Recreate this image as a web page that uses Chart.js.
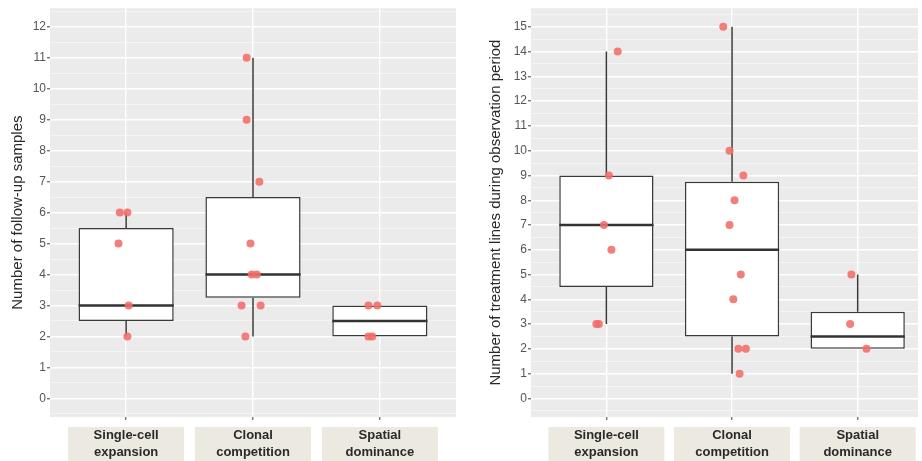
<!DOCTYPE html>
<html><head><meta charset="utf-8">
<script src="https://cdn.jsdelivr.net/npm/chart.js@4.4.1/dist/chart.umd.min.js"></script>
<style>
html,body{margin:0;padding:0;background:#fff;overflow:hidden;}
#wrap{position:relative;width:922px;height:461px;}
canvas{position:absolute;top:0;}
#c1{left:0}
#c2{left:460px}
</style></head><body>
<div id="wrap"><canvas id="c1" width="460" height="461"></canvas><canvas id="c2" width="462" height="461"></canvas></div>
<script>
// ---------- data ----------
const CATEGORIES = [["Single-cell","expansion"],["Clonal","competition"],["Spatial","dominance"]];

const FOLLOWUP_TITLE = "Number of follow-up samples";
const FOLLOWUP_TICKS = [0,1,2,3,4,5,6,7,8,9,10,11,12];
const FOLLOWUP_LOWER  = [2, 2, 2];
const FOLLOWUP_Q1     = [2.5, 3.25, 2];
const FOLLOWUP_MEDIAN = [3, 4, 2.5];
const FOLLOWUP_Q3     = [5.5, 6.5, 3];
const FOLLOWUP_UPPER  = [6, 11, 3];
const FOLLOWUP_PT_GROUP  = [0,0,0,0,0, 1,1,1,1,1,1,1,1,1, 2,2,2,2];
const FOLLOWUP_PT_VALUE  = [6,6,5,3,2, 11,9,7,5,4,4,3,3,2, 3,3,2,2];
const FOLLOWUP_PT_JITTER = [-0.05,0.01,-0.06,0.02,0.01, -0.05,-0.05,0.05,-0.02,-0.01,0.03,-0.09,0.06,-0.06, -0.09,-0.02,-0.09,-0.06];

const TREAT_TITLE = "Number of treatment lines during observation period";
const TREAT_TICKS = [0,1,2,3,4,5,6,7,8,9,10,11,12,13,14,15];
const TREAT_LOWER  = [3, 1, 2];
const TREAT_Q1     = [4.5, 2.5, 2];
const TREAT_MEDIAN = [7, 6, 2.5];
const TREAT_Q3     = [9, 8.75, 3.5];
const TREAT_UPPER  = [14, 15, 5];
const TREAT_PT_GROUP  = [0,0,0,0,0,0, 1,1,1,1,1,1,1,1,1,1, 2,2,2];
const TREAT_PT_VALUE  = [14,9,7,6,3,3, 15,10,9,8,7,5,4,2,2,1, 5,3,2];
const TREAT_PT_JITTER = [0.09,0.02,-0.02,0.04,-0.08,-0.06, -0.07,-0.02,0.09,0.02,-0.02,0.07,0.01,0.05,0.11,0.06, -0.05,-0.06,0.07];

// ---------- style ----------
const BOX_WIDTH = 0.75;
const FONT = 'Arial, "Liberation Sans", sans-serif';
const isInt = v => Math.abs(v - Math.round(v)) < 1e-9;

const bgPlugin = {
  id: 'bg',
  beforeDraw(chart) {
    const {ctx, chartArea: a, scales: {x}} = chart;
    ctx.save();
    ctx.fillStyle = '#ebebeb';
    ctx.fillRect(a.left, a.top, a.right - a.left, a.bottom - a.top);
    ctx.fillStyle = '#ece9e1';
    x.ticks.forEach(t => {
      const px = x.getPixelForValue(t.value);
      ctx.fillRect(px - 58, a.bottom + 10, 116, chart.height);
    });
    ctx.restore();
  }
};

function makeChart(id, o) {
  const n = CATEGORIES.length;
  const boxes = o.q1.map((q, i) => ({x: i + 1, y: [q, o.q3[i]]}));
  const whiskers = [], medians = [];
  for (let i = 0; i < n; i++) {
    const c = i + 1;
    whiskers.push({x: c, y: o.lower[i]}, {x: c, y: o.q1[i]}, {x: c, y: null},
                  {x: c, y: o.q3[i]}, {x: c, y: o.upper[i]}, {x: c, y: null});
    medians.push({x: c - BOX_WIDTH / 2, y: o.median[i]}, {x: c + BOX_WIDTH / 2, y: o.median[i]},
                 {x: c + BOX_WIDTH / 2, y: null});
  }
  const pts = o.ptValue.map((v, i) => ({x: o.ptGroup[i] + 1 + o.ptJitter[i], y: v}));
  const tMin = o.ticks[0], tMax = o.ticks[o.ticks.length - 1];
  const span = tMax - tMin;
  const allTicks = [];
  for (let v = tMin - 0.5; v <= tMax + 0.5 + 1e-9; v += 0.5) allTicks.push(v);

  return new Chart(document.getElementById(id), {
    type: 'bar',
    data: {
      datasets: [
        {type: 'scatter', data: pts, order: 0, pointRadius: 4, pointHoverRadius: 4,
         backgroundColor: 'rgba(242,108,102,0.88)', borderWidth: 0},
        {type: 'line', data: medians, order: 1, borderColor: '#333', borderWidth: 2.6,
         pointRadius: 0, spanGaps: false, borderCapStyle: 'butt'},
        {type: 'bar', data: boxes, order: 2, backgroundColor: '#ffffff', borderColor: '#3a3a3a',
         borderWidth: 1.5, borderSkipped: false, barPercentage: BOX_WIDTH, categoryPercentage: 1},
        {type: 'line', data: whiskers, order: 3, borderColor: '#3a3a3a', borderWidth: 1.5,
         pointRadius: 0, spanGaps: false}
      ]
    },
    options: {
      responsive: false, animation: false, devicePixelRatio: 1,
      layout: {padding: {top: 8, right: o.padRight, left: 0, bottom: 0}},
      plugins: {legend: {display: false}, tooltip: {enabled: false}},
      scales: {
        x: {
          type: 'linear', min: 0.4, max: o.xMax, offset: false,
          afterBuildTicks: s => { s.ticks = CATEGORIES.map((_, i) => ({value: i + 1})); },
          afterFit: s => { s.height = 44; },
          ticks: {callback: v => CATEGORIES[Math.round(v) - 1], autoSkip: false, maxRotation: 0, minRotation: 0,
                  color: '#2a2a2a', font: {family: FONT, size: 13, weight: 'bold', lineHeight: 1.38}, padding: 6},
          grid: {offset: false, color: '#ffffff', lineWidth: 1.4, tickColor: '#777', tickLength: 3},
          border: {display: false}
        },
        y: {
          type: 'linear', min: tMin - 0.05 * span, max: tMax + 0.05 * span,
          afterBuildTicks: s => { s.ticks = allTicks.map(v => ({value: v})); },
          afterFit: s => { s.width = o.yWidth; },
          ticks: {callback: v => (isInt(v) && v >= tMin && v <= tMax) ? String(Math.round(v)) : '',
                  autoSkip: false, color: '#555', font: {family: FONT, size: 12}, padding: 1},
          grid: {
            color: c => isInt(c.tick.value) ? '#ffffff' : 'rgba(255,255,255,0.75)',
            lineWidth: c => isInt(c.tick.value) ? 1.4 : 0.7,
            tickColor: c => isInt(c.tick.value) ? '#777' : 'rgba(0,0,0,0)',
            tickLength: 3
          },
          border: {display: false},
          title: {display: true, text: o.title, color: '#2a2a2a', font: {family: FONT, size: 15},
                  padding: {top: o.titlePad, bottom: 0}}
        }
      }
    },
    plugins: [bgPlugin]
  });
}

makeChart('c1', {q1: FOLLOWUP_Q1, q3: FOLLOWUP_Q3, median: FOLLOWUP_MEDIAN, lower: FOLLOWUP_LOWER, upper: FOLLOWUP_UPPER,
  ptGroup: FOLLOWUP_PT_GROUP, ptValue: FOLLOWUP_PT_VALUE, ptJitter: FOLLOWUP_PT_JITTER,
  ticks: FOLLOWUP_TICKS, title: FOLLOWUP_TITLE, yWidth: 50, padRight: 3, xMax: 3.6, titlePad: 9});
makeChart('c2', {q1: TREAT_Q1, q3: TREAT_Q3, median: TREAT_MEDIAN, lower: TREAT_LOWER, upper: TREAT_UPPER,
  ptGroup: TREAT_PT_GROUP, ptValue: TREAT_PT_VALUE, ptJitter: TREAT_PT_JITTER,
  ticks: TREAT_TICKS, title: TREAT_TITLE, yWidth: 71, padRight: 0, xMax: 3.48, titlePad: 27});
</script>
</body></html>
